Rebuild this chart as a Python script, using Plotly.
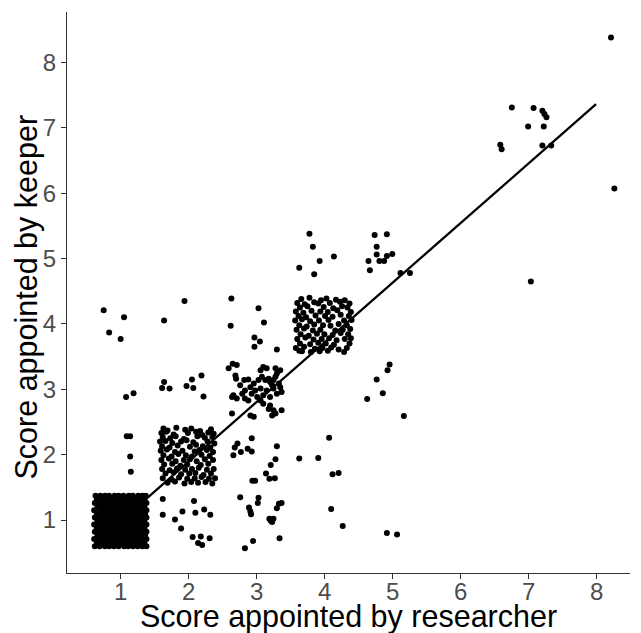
import plotly.graph_objects as go

# ---------------- data ----------------
# dense blob around (1, 1): one list of x per row, with the row's y
blob_row_y = [0.60, 0.655, 0.71, 0.765, 0.82, 0.875, 0.93, 0.985, 1.04, 1.095, 1.15, 1.205, 1.26, 1.315, 1.37]
blob_rows_x = [
    [0.62, 0.69, 0.77, 0.83, 0.90, 0.97, 1.05, 1.11, 1.18, 1.25, 1.32, 1.38],
    [0.65, 0.72, 0.80, 0.86, 0.93, 1.01, 1.07, 1.14, 1.22, 1.28, 1.35],
    [0.61, 0.69, 0.76, 0.84, 0.90, 0.98, 1.04, 1.12, 1.18, 1.26, 1.32, 1.38],
    [0.66, 0.73, 0.79, 0.87, 0.94, 1.00, 1.08, 1.15, 1.21, 1.29, 1.36],
    [0.62, 0.70, 0.76, 0.83, 0.91, 0.97, 1.04, 1.11, 1.19, 1.25, 1.32, 1.38],
    [0.65, 0.72, 0.80, 0.87, 0.93, 1.01, 1.08, 1.14, 1.22, 1.28, 1.35],
    [0.61, 0.69, 0.76, 0.84, 0.90, 0.97, 1.05, 1.11, 1.18, 1.25, 1.33, 1.38],
    [0.66, 0.73, 0.80, 0.86, 0.94, 1.00, 1.07, 1.15, 1.21, 1.29, 1.35],
    [0.62, 0.69, 0.77, 0.83, 0.90, 0.98, 1.04, 1.11, 1.18, 1.26, 1.32, 1.38],
    [0.65, 0.72, 0.79, 0.87, 0.93, 1.01, 1.08, 1.14, 1.22, 1.28, 1.36],
    [0.61, 0.70, 0.76, 0.83, 0.91, 0.97, 1.04, 1.12, 1.18, 1.25, 1.32, 1.38],
    [0.66, 0.72, 0.80, 0.86, 0.94, 1.00, 1.07, 1.15, 1.21, 1.29, 1.35],
    [0.62, 0.69, 0.76, 0.84, 0.90, 0.98, 1.05, 1.11, 1.19, 1.25, 1.33, 1.38],
    [0.65, 0.73, 0.79, 0.87, 0.93, 1.01, 1.08, 1.14, 1.22, 1.28, 1.35],
    [0.63, 0.70, 0.77, 0.83, 0.91, 0.97, 1.04, 1.12, 1.18, 1.26, 1.32, 1.37],
]

# cluster around (2, 2)
c2_x = [1.63, 1.69, 1.82, 1.95, 2.04, 2.17, 2.33,
        1.60, 1.67, 1.78, 1.99, 2.11, 2.20, 2.29, 2.37,
        1.62, 1.73, 1.81, 1.93, 2.13, 2.24, 2.35,
        1.58, 1.66, 1.76, 1.89, 1.97, 2.07, 2.28, 2.38,
        1.61, 1.72, 1.84, 2.02, 2.11, 2.21, 2.32,
        1.59, 1.68, 1.80, 1.91, 2.09, 2.16, 2.27, 2.36,
        1.63, 1.75, 1.85, 1.96, 2.05, 2.19, 2.31,
        1.60, 1.71, 1.81, 1.93, 2.02, 2.12, 2.24, 2.36,
        1.64, 1.76, 1.88, 1.98, 2.18, 2.29,
        1.61, 1.72, 1.83, 1.95, 2.05, 2.15, 2.27, 2.37,
        1.66, 1.78, 1.89, 2.01, 2.10, 2.22, 2.33,
        1.62, 1.75, 1.86, 1.98, 2.09, 2.19, 2.30, 2.39,
        1.69, 1.80, 1.94, 2.04, 2.14, 2.25, 2.35]
c2_y = [2.40, 2.37, 2.41, 2.38, 2.40, 2.36, 2.39,
        2.33, 2.35, 2.31, 2.33, 2.35, 2.30, 2.34, 2.32,
        2.27, 2.25, 2.28, 2.24, 2.28, 2.26, 2.27,
        2.20, 2.21, 2.18, 2.20, 2.22, 2.19, 2.20, 2.17,
        2.13, 2.11, 2.14, 2.12, 2.15, 2.13, 2.11,
        2.06, 2.08, 2.04, 2.06, 2.05, 2.07, 2.07, 2.04,
        1.99, 1.97, 2.01, 1.99, 1.97, 2.00, 1.98,
        1.92, 1.94, 1.90, 1.92, 1.93, 1.90, 1.93, 1.92,
        1.85, 1.86, 1.83, 1.85, 1.84, 1.86,
        1.78, 1.76, 1.79, 1.77, 1.78, 1.80, 1.77, 1.78,
        1.71, 1.73, 1.70, 1.71, 1.72, 1.69, 1.71,
        1.64, 1.62, 1.65, 1.63, 1.64, 1.66, 1.63, 1.64,
        1.57, 1.59, 1.56, 1.58, 1.57, 1.58, 1.56]

# cluster around (3, 3)
c3_x = [2.59, 2.65, 2.71, 2.69, 2.70, 2.76, 2.82, 2.88, 2.91, 2.96, 2.98, 2.93, 2.83, 2.79,
        2.66, 2.64, 2.71, 2.83, 2.88, 3.01, 3.06, 3.10, 3.15, 3.08, 3.13, 3.18, 3.20, 3.23,
        3.25, 3.28, 3.30, 3.33, 3.35, 3.25, 3.15, 3.10, 3.20, 3.06, 3.03, 3.30, 3.37, 3.20,
        3.25, 3.18, 3.28, 3.23, 3.37, 2.91, 2.96, 2.64, 3.35, 3.28, 3.06, 3.10]
c3_y = [3.32, 3.39, 3.37, 3.21, 3.16, 3.06, 3.14, 3.15, 3.03, 3.09, 2.98, 2.93, 2.98, 2.93,
        2.91, 2.88, 2.86, 2.86, 2.83, 2.88, 3.29, 3.34, 3.32, 3.19, 3.14, 3.16, 3.11, 3.06,
        3.14, 3.19, 3.24, 3.09, 3.03, 3.01, 2.98, 2.91, 2.88, 3.01, 3.14, 2.93, 2.96, 2.75,
        2.68, 2.70, 2.63, 2.60, 2.68, 2.60, 2.58, 2.63, 3.29, 3.32, 2.83, 2.78]

# cluster around (4, 4)
c4_x = [3.66, 3.78, 3.95, 4.03, 4.17, 4.30,
        3.60, 3.71, 3.85, 3.91, 4.08, 4.23, 4.37,
        3.64, 3.75, 3.99, 4.13, 4.26, 4.34,
        3.58, 3.69, 3.81, 3.94, 4.05, 4.19, 4.39,
        3.62, 3.73, 3.87, 4.01, 4.12, 4.24, 4.36,
        3.57, 3.67, 3.79, 3.92, 4.06, 4.29, 4.40,
        3.63, 3.74, 3.85, 3.98, 4.09, 4.21, 4.33,
        3.59, 3.70, 3.83, 3.94, 4.16, 4.27, 4.38,
        3.65, 3.77, 3.89, 4.00, 4.12, 4.24, 4.35,
        3.60, 3.72, 3.84, 3.96, 4.07, 4.18, 4.30, 4.39,
        3.64, 3.79, 3.91, 4.02, 4.14, 4.37,
        3.58, 3.70, 3.86, 3.97, 4.10, 4.21, 4.33,
        3.67, 3.80, 3.93, 4.05, 4.29]
c4_y = [4.38, 4.40, 4.36, 4.39, 4.37, 4.36,
        4.32, 4.30, 4.33, 4.31, 4.32, 4.34, 4.31,
        4.25, 4.27, 4.26, 4.24, 4.27, 4.25,
        4.19, 4.17, 4.20, 4.19, 4.18, 4.21, 4.18,
        4.12, 4.10, 4.13, 4.12, 4.11, 4.14, 4.12,
        4.05, 4.07, 4.04, 4.05, 4.06, 4.05, 4.06,
        3.98, 3.96, 3.99, 3.98, 3.97, 4.00, 3.98,
        3.91, 3.93, 3.90, 3.91, 3.90, 3.91, 3.92,
        3.84, 3.82, 3.85, 3.84, 3.83, 3.86, 3.84,
        3.77, 3.79, 3.76, 3.77, 3.78, 3.75, 3.77, 3.78,
        3.70, 3.69, 3.71, 3.70, 3.68, 3.70,
        3.63, 3.65, 3.62, 3.63, 3.64, 3.61, 3.63,
        3.58, 3.57, 3.58, 3.59, 3.57]

# scattered points
sc_x = [0.75, 1.05, 1.64, 0.83, 1.00, 1.64, 1.61, 1.72, 1.19, 1.08, 1.09, 1.14, 1.14, 1.15,
        1.94, 2.05, 2.19, 1.97, 2.07, 2.22,
        1.62, 2.08, 1.62, 1.91, 1.80, 2.10, 2.23, 2.32, 1.89, 2.06, 2.18, 2.31, 2.20, 2.14,
        2.63, 3.03, 2.62, 3.11, 2.97, 3.05, 2.97, 3.30, 3.63,
        2.93, 2.72, 2.68, 2.77, 2.66, 2.87, 2.93, 3.30, 3.28, 3.21, 3.63, 3.91, 4.07,
        3.14, 3.19, 3.27, 2.94, 2.98, 4.12, 4.21, 2.76, 3.03, 3.02, 2.89, 2.91, 2.92,
        3.33, 3.37, 3.30, 3.19, 3.25, 3.23, 3.21, 4.10, 3.34, 2.95, 2.83,
        3.78, 3.83, 3.93, 4.14, 3.63, 3.85,
        4.74, 4.92, 4.77, 4.77, 4.65, 4.81, 4.88, 4.92, 5.00, 4.67, 5.12, 5.26,
        4.96, 4.93, 4.77, 4.86, 4.63, 5.17, 4.27, 4.92, 5.07,
        8.22, 6.76, 7.08, 7.21, 7.24, 7.27, 7.00, 7.23, 6.59, 6.61, 7.21, 7.34, 8.27, 7.04]
sc_y = [4.21, 4.10, 4.05, 3.87, 3.77, 3.11, 3.02, 3.01, 2.94, 2.88, 2.28, 2.28, 1.97, 1.74,
        4.35, 3.15, 3.21, 3.05, 3.02, 2.89,
        1.32, 1.29, 1.08, 1.13, 1.01, 1.11, 1.16, 1.08, 0.87, 0.74, 0.75, 0.72, 0.62, 0.65,
        4.39, 4.24, 3.97, 4.02, 3.79, 3.73, 3.65, 3.61, 3.59,
        2.25, 2.17, 2.11, 2.04, 1.99, 2.09, 2.05, 2.13, 1.93, 1.84, 1.94, 1.95, 2.26,
        1.71, 1.63, 1.64, 1.60, 1.60, 1.70, 1.72, 1.35, 1.34, 1.26, 1.19, 1.13, 1.09,
        1.25, 1.26, 1.18, 1.02, 1.02, 0.97, 0.99, 1.17, 0.72, 0.68, 0.57,
        5.38, 5.18, 4.96, 5.03, 4.86, 4.76,
        5.36, 5.37, 5.18, 5.06, 4.96, 4.96, 4.96, 5.04, 5.07, 4.82, 4.78, 4.78,
        3.38, 3.29, 3.15, 2.94, 2.85, 2.59, 0.91, 0.80, 0.78,
        8.38, 7.31, 7.30, 7.26, 7.21, 7.16, 7.02, 7.02, 6.74, 6.67, 6.73, 6.73, 6.07, 4.65]

# fitted line
line_x = [1.0, 8.0]
line_y = [0.98, 7.36]

x_ticks = [1, 2, 3, 4, 5, 6, 7, 8]
x_tick_labels = ["1", "2", "3", "4", "5", "6", "7", "8"]
y_ticks = [1, 2, 3, 4, 5, 6, 7, 8]
x_title = "Score appointed by researcher"
y_title = "Score appointed by keeper"

# ---------------- build ----------------
blob_x, blob_y = [], []
for yy, row in zip(blob_row_y, blob_rows_x):
    blob_x.extend(row)
    blob_y.extend([yy] * len(row))

all_x = blob_x + c2_x + c3_x + c4_x + sc_x
all_y = blob_y + c2_y + c3_y + c4_y + sc_y

fig = go.Figure()
fig.add_trace(go.Scatter(x=all_x, y=all_y, mode="markers",
                         marker=dict(color="black", size=6, line=dict(width=0)),
                         hoverinfo="skip"))
fig.add_trace(go.Scatter(x=line_x, y=line_y, mode="lines",
                         line=dict(color="black", width=2.3), hoverinfo="skip"))

font_family = "Liberation Sans, Arial, sans-serif"
tick_font = dict(size=24, color="#4D4D4D", family=font_family)
axis_common = dict(
    showgrid=False, zeroline=False, showline=True, linecolor="#333333", linewidth=1.1,
    ticks="outside", ticklen=5, tickwidth=1.1, tickcolor="#333333",
    tickfont=tick_font, automargin=False,
)

annotations = [
    dict(text=lab, x=v, xref="x", y=0, yref="paper", xanchor="center", yanchor="top",
         yshift=-3, showarrow=False, font=tick_font)
    for v, lab in zip(x_ticks, x_tick_labels)
]
annotations += [
    dict(text=x_title, xref="paper", yref="paper", x=0.5, y=0,
         xanchor="center", yanchor="top", yshift=-24, showarrow=False,
         font=dict(size=30.5, color="black", family=font_family)),
    dict(text=y_title, xref="paper", yref="paper", x=0, y=0.5,
         xanchor="center", yanchor="middle", xshift=-41, yshift=-5, textangle=-90,
         showarrow=False,
         font=dict(size=30.5, color="black", family=font_family)),
]

# page body has an 8 px default margin, so the figure is drawn 8 px in
fig.update_layout(
    width=633, height=625,
    margin=dict(l=59, r=11, t=4, b=60),
    paper_bgcolor="white", plot_bgcolor="white",
    showlegend=False,
    font=dict(family=font_family),
    xaxis=dict(range=[0.21, 8.5], tickvals=x_ticks, showticklabels=False, **axis_common),
    yaxis=dict(range=[0.19, 8.77], tickvals=y_ticks, **axis_common),
    annotations=annotations,
)
fig.write_html("out.html")
